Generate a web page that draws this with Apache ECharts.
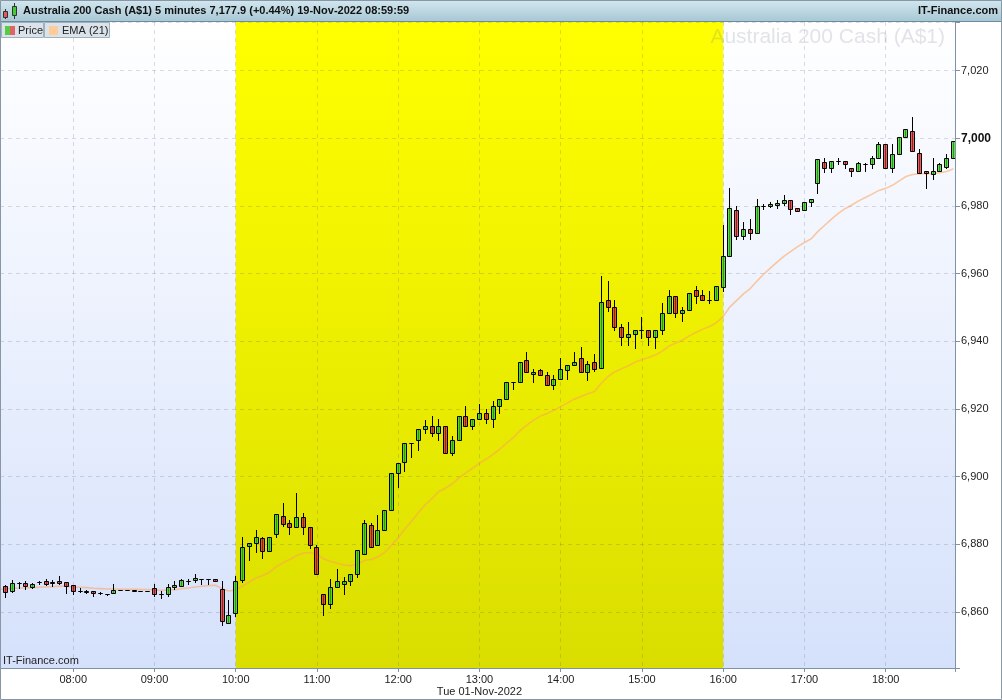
<!DOCTYPE html>
<html><head><meta charset="utf-8">
<script src="https://cdn.jsdelivr.net/npm/echarts@6/dist/echarts.min.js"></script>
<style>html,body{margin:0;padding:0;background:#fff}#c{width:1002px;height:700px}</style>
</head><body><div id="c"></div>
<script>
const times = [
'07:05','07:10','07:15','07:20','07:25','07:30','07:35','07:40','07:45','07:50','07:55',
'08:00','08:05','08:10','08:15','08:20','08:25','08:30','08:35','08:40','08:45','08:50','08:55',
'09:00','09:05','09:10','09:15','09:20','09:25','09:30','09:35','09:40','09:45','09:50','09:55',
'10:00','10:05','10:10','10:15','10:20','10:25','10:30','10:35','10:40','10:45','10:50','10:55',
'11:00','11:05','11:10','11:15','11:20','11:25','11:30','11:35','11:40','11:45','11:50','11:55',
'12:00','12:05','12:10','12:15','12:20','12:25','12:30','12:35','12:40','12:45','12:50','12:55',
'13:00','13:05','13:10','13:15','13:20','13:25','13:30','13:35','13:40','13:45','13:50','13:55',
'14:00','14:05','14:10','14:15','14:20','14:25','14:30','14:35','14:40','14:45','14:50','14:55',
'15:00','15:05','15:10','15:15','15:20','15:25','15:30','15:35','15:40','15:45','15:50','15:55',
'16:00','16:05','16:10','16:15','16:20','16:25','16:30','16:35','16:40','16:45','16:50','16:55',
'17:00','17:05','17:10','17:15','17:20','17:25','17:30','17:35','17:40','17:45','17:50','17:55',
'18:00','18:05','18:10','18:15','18:20','18:25','18:30','18:35','18:40','18:45','18:50'];
const opens = [
null,6867.8,6866.1,6868.6,6868.6,6867.4,6868.8,6869.2,6868.9,6869.2,6868.8,
6868.0,6866.3,6866.2,6866.1,6865.6,6865.3,6865.6,6866.5,6866.5,6866.5,6866.1,6866.1,
6867.1,6865.4,6865.3,6867.4,6867.8,6869.2,6869.4,6869.7,6869.7,6869.7,6866.8,6856.7,
6859.7,6869.6,6879.6,6880.3,6881.8,6878.1,6883.2,6888.5,6886.3,6885.0,6888.2,6885.0,
6879.1,6865.3,6862.4,6867.4,6868.2,6869.1,6871.2,6877.1,6885.6,6879.7,6884.1,6890.1,
6901.1,6904.3,6910.0,6910.8,6914.0,6915.0,6912.9,6915.0,6906.9,6910.8,6917.9,6915.0,
6916.9,6918.9,6916.9,6920.9,6923.0,6928.0,6928.0,6934.5,6930.3,6931.5,6930.0,6927.1,
6928.9,6931.5,6933.0,6935.2,6931.0,6933.8,6932.0,6952.2,6950.1,6944.2,6941.2,6942.1,
6943.3,6943.3,6941.2,6943.3,6948.3,6953.4,6948.3,6949.2,6955.2,6953.7,6952.2,6952.2,
6956.0,6965.1,6978.8,6971.1,6973.1,6972.1,6980.0,6980.1,6980.3,6981.0,6981.9,6979.4,
6978.7,6981.3,6986.8,6993.1,6991.1,6993.2,6993.2,6991.1,6990.2,6992.4,6992.3,6994.1,
6998.2,6991.1,6995.4,7000.3,7002.1,6995.6,6990.2,6989.4,6990.2,6991.6,6994.1];
const closes = [
null,6865.9,6868.6,6868.6,6867.8,6868.4,6868.8,6868.4,6868.7,6868.5,6867.6,
6866.3,6866.3,6866.0,6865.5,6865.5,6865.3,6866.5,6866.5,6866.5,6866.3,6866.1,6866.1,
6865.3,6865.4,6867.4,6867.9,6869.5,6869.2,6870.0,6869.7,6869.7,6869.1,6857.4,6859.2,
6869.1,6879.1,6880.3,6882.1,6878.1,6882.1,6889.1,6886.1,6885.0,6888.2,6885.0,6879.7,
6871.2,6862.4,6867.4,6869.1,6869.1,6871.2,6878.2,6886.2,6879.1,6884.1,6890.0,6901.1,
6904.0,6910.0,6910.0,6914.1,6915.0,6912.9,6915.0,6906.9,6910.8,6917.9,6915.0,6917.0,
6918.9,6916.9,6920.9,6923.0,6928.0,6928.0,6933.9,6930.9,6930.9,6930.0,6927.1,6928.9,
6931.8,6933.0,6933.9,6931.0,6933.2,6931.7,6951.6,6950.1,6944.2,6941.2,6942.1,6943.3,
6943.3,6941.2,6943.3,6948.3,6953.4,6948.3,6949.2,6954.3,6953.4,6952.2,6952.2,6956.4,
6965.1,6979.3,6971.1,6973.1,6972.1,6980.0,6980.0,6980.5,6981.0,6981.7,6979.2,6978.4,
6981.3,6982.0,6993.8,6991.1,6993.2,6993.4,6992.3,6990.2,6992.6,6992.4,6994.1,6998.2,
6991.1,6995.4,7000.3,7002.7,6996.1,6989.6,6989.6,6990.2,6992.4,6994.1,6999.1];
const lows = [
null,6864.4,6865.8,6867.2,6866.8,6867.2,6868.3,6868.0,6867.8,6868.4,6865.6,
6865.3,6865.9,6865.6,6864.8,6865.2,6865.1,6865.6,6866.5,6866.5,6866.3,6866.1,6866.1,
6864.8,6864.1,6864.6,6866.8,6867.6,6868.4,6869.0,6868.4,6868.4,6869.1,6856.1,6856.7,
6858.9,6869.0,6875.4,6877.6,6876.1,6878.1,6882.1,6885.5,6883.1,6885.0,6883.1,6879.0,
6871.2,6859.1,6861.1,6867.4,6865.2,6868.1,6870.3,6877.1,6879.1,6879.7,6884.1,6890.1,
6896.8,6901.8,6905.7,6907.9,6912.8,6911.9,6910.8,6906.9,6906.3,6910.8,6915.0,6914.0,
6916.9,6915.8,6914.8,6918.7,6923.0,6925.8,6928.0,6930.9,6928.0,6930.0,6927.1,6925.9,
6928.9,6928.9,6933.0,6931.0,6928.5,6931.2,6932.0,6949.1,6943.2,6939.0,6939.0,6938.1,
6941.1,6939.0,6938.1,6942.1,6948.3,6947.1,6946.1,6949.2,6951.3,6952.2,6951.3,6952.2,
6955.0,6965.1,6970.1,6970.1,6970.1,6972.1,6979.0,6979.7,6979.4,6980.4,6977.7,6978.4,
6978.7,6980.0,6983.9,6990.1,6990.1,6992.3,6991.1,6989.0,6990.2,6990.2,6991.1,6994.1,
6991.1,6990.1,6995.4,7000.3,6996.1,6989.6,6985.2,6988.1,6990.2,6991.1,6994.1];
const highs = [
null,6868.0,6869.5,6868.8,6869.1,6868.6,6869.3,6869.7,6869.6,6870.7,6868.8,
6868.0,6867.1,6866.6,6866.1,6865.8,6865.4,6868.4,6866.5,6866.5,6866.5,6866.1,6866.1,
6868.4,6866.1,6868.4,6869.3,6869.8,6869.7,6871.2,6869.7,6869.7,6869.7,6869.3,6863.4,
6870.5,6882.1,6880.3,6884.2,6882.3,6882.1,6889.1,6892.2,6887.2,6895.1,6889.2,6885.0,
6879.7,6865.3,6869.8,6872.7,6870.3,6871.2,6878.2,6887.1,6886.2,6888.7,6890.0,6901.1,
6904.0,6910.0,6910.0,6914.1,6916.6,6918.0,6917.0,6915.0,6912.1,6917.9,6921.0,6917.0,
6921.6,6920.0,6922.3,6923.0,6928.0,6928.0,6933.9,6936.9,6931.8,6931.8,6930.9,6930.0,
6935.1,6933.0,6936.9,6938.2,6934.2,6936.2,6959.4,6957.8,6952.3,6945.1,6945.6,6943.3,
6947.2,6943.3,6943.3,6951.4,6955.2,6953.4,6950.2,6954.3,6956.4,6955.2,6955.0,6956.4,
6974.3,6985.4,6980.0,6975.2,6976.2,6982.2,6980.7,6981.2,6981.9,6983.2,6981.9,6979.4,
6981.3,6982.0,6993.8,6994.1,6993.2,6994.1,6993.2,6991.1,6993.1,6992.6,6994.8,6998.8,
6998.2,6998.2,7000.3,7002.7,7006.4,6996.7,6990.2,6994.1,6992.8,6995.4,6999.1];
const ema21 = [
6866.7,6866.8,6867.0,6867.1,6867.1,6867.2,6867.3,6867.4,6867.5,6867.6,6867.6,
6867.4,6867.3,6867.2,6867.0,6866.9,6866.8,6866.8,6866.7,6866.7,6866.7,6866.6,6866.6,
6866.5,6866.4,6866.5,6866.6,6866.9,6867.1,6867.4,6867.6,6867.8,6867.9,6866.9,6866.2,
6866.5,6867.7,6868.8,6870.1,6870.8,6871.8,6873.4,6874.6,6875.5,6876.7,6877.4,6877.6,
6877.1,6875.7,6875.0,6874.4,6873.9,6873.7,6874.1,6875.2,6875.5,6876.3,6877.6,6879.7,
6881.9,6884.6,6886.9,6889.4,6891.7,6893.6,6895.6,6896.6,6897.9,6899.7,6901.1,6902.5,
6904.0,6905.2,6906.6,6908.1,6909.9,6911.5,6913.6,6915.2,6916.7,6917.9,6918.7,6919.6,
6920.7,6921.8,6922.9,6923.7,6924.5,6925.2,6927.6,6929.6,6931.0,6931.9,6932.8,6933.8,
6934.6,6935.2,6936.0,6937.1,6938.6,6939.5,6940.4,6941.6,6942.7,6943.6,6944.4,6945.5,
6947.3,6950.2,6952.1,6954.0,6955.6,6957.8,6959.9,6961.7,6963.5,6965.2,6966.6,6968.0,
6969.2,6970.3,6972.5,6974.3,6976.1,6977.8,6979.2,6980.3,6981.5,6982.5,6983.5,6984.6,
6985.2,6986.1,6987.4,6988.7,6989.3,6989.5,6989.5,6989.6,6989.8,6990.2,6991.0];
const session = ['10:00', '16:00'];
const xTickLabels = ['08:00','09:00','10:00','11:00','12:00','13:00','14:00','15:00','16:00','17:00','18:00'];
const yTickLabels = [6860, 6880, 6900, 6920, 6940, 6960, 6980, 7000, 7020];
const dateLabel = {at: '13:00', text: 'Tue 01-Nov-2022'};
const titleText = 'Australia 200 Cash (A$1) 5 minutes 7,177.9 (+0.44%) 19-Nov-2022 08:59:59';
const watermark = 'Australia 200 Cash (A$1)';
const brand = 'IT-Finance.com';
const legendNames = ['Price', 'EMA (21)'];
const viewRange = ['07:05:54', '18:51:12'];

const toHour = s => { const p = s.split(':').map(Number); return p[0] + p[1] / 60 + (p[2] || 0) / 3600; };
const fmtHour = v => { const tot = Math.round(v * 60); const h = Math.floor(tot / 60), m = tot % 60; return String(h).padStart(2, '0') + ':' + String(m).padStart(2, '0'); };

const candleData = times.map((t, i) => [toHour(t), opens[i], closes[i], lows[i], highs[i]]);
const emaData = times.map((t, i) => [toHour(t), ema21[i]]);

const LG = echarts.graphic.LinearGradient;
const chart = echarts.init(document.getElementById('c'), null, {renderer: 'canvas'});
const gridLine = {show: true, lineStyle: {type: [4, 4], color: 'rgba(80,80,110,0.2)', width: 1}};
const axisCol = '#7f93a6';
const FONT = 'Liberation Sans, Arial, sans-serif';

chart.setOption({
  animation: false,
  backgroundColor: '#ffffff',
  grid: {left: 0, right: 47, top: 22, bottom: 32, show: true, borderWidth: 0, outerBoundsMode: 'none', containLabel: false,
    backgroundColor: new LG(0, 0, 0, 1, [{offset: 0, color: '#ffffff'}, {offset: 1, color: '#d5e1fb'}])},
  xAxis: {
    type: 'value', min: toHour(viewRange[0]), max: toHour(viewRange[1]), splitNumber: 12, scale: true, z: 2,
    axisLine: {show: true, onZero: false, lineStyle: {color: axisCol}},
    axisTick: {show: true, length: 4, lineStyle: {color: axisCol}},
    axisLabel: {color: '#222', fontSize: 11, fontFamily: FONT, margin: 6, lineHeight: 12,
      formatter: v => { if (Math.abs(v - Math.round(v)) > 0.001) return ''; const s = fmtHour(v); if (xTickLabels.indexOf(s) < 0) return ''; return s === dateLabel.at ? s + '\n' + dateLabel.text : s; }},
    splitLine: gridLine
  },
  yAxis: {
    type: 'value', position: 'right', min: 6843.45, max: 7034.37, splitNumber: 10, scale: true, z: 2,
    axisLine: {show: true, lineStyle: {color: axisCol}},
    axisTick: {show: true, length: 5, lineStyle: {color: axisCol}},
    axisLabel: {color: '#222', fontSize: 11, fontFamily: FONT, margin: 6,
      formatter: v => { if (yTickLabels.indexOf(Math.round(v)) < 0 || Math.abs(v - Math.round(v)) > 0.01) return ''; const s = Math.round(v).toLocaleString('en-US'); return Math.round(v) === 7000 ? '{b|' + s + '}' : s; },
      rich: {b: {fontWeight: 'bold', fontSize: 12, color: '#111', fontFamily: FONT}}},
    splitLine: gridLine
  },
  series: [
    {
      type: 'custom', z: 1, silent: true,
      data: [[toHour(session[0]), toHour(session[1])]],
      encode: {x: [0, 1]},
      renderItem: (params, api) => {
        const cs = params.coordSys;
        const x0 = api.coord([api.value(0), 6900])[0];
        const x1 = api.coord([api.value(1), 6900])[0];
        return {type: 'rect', shape: {x: x0, y: cs.y, width: x1 - x0, height: cs.height},
          style: {fill: new LG(0, 0, 0, 1, [{offset: 0, color: '#ffff00'}, {offset: 1, color: '#dade00'}])}};
      }
    },
    {
      type: 'line', z: 3, data: emaData, symbol: 'none', silent: true,
      lineStyle: {color: 'rgba(255,160,90,0.55)', width: 1.6}
    },
    {
      type: 'custom', z: 4, clip: true,
      data: candleData,
      encode: {x: 0, y: [1, 2, 3, 4]},
      renderItem: (params, api) => {
        const t = api.value(0), o = api.value(1), c = api.value(2), l = api.value(3), h = api.value(4);
        if (o == null || isNaN(o)) return null;
        const cx = Math.floor(api.coord([t, o])[0]);
        const yo = api.coord([t, o])[1], yc = api.coord([t, c])[1];
        const yl = api.coord([t, l])[1], yh = api.coord([t, h])[1];
        const top = Math.round(Math.min(yo, yc)) + 0.5, bot = Math.round(Math.max(yo, yc)) + 0.5;
        const up = c >= o;
        return {type: 'group', children: [
          {type: 'line', shape: {x1: cx + 0.5, y1: Math.round(yh), x2: cx + 0.5, y2: Math.round(yl) + 1},
            style: {stroke: '#000', lineWidth: 1}},
          {type: 'rect', shape: {x: cx - 1.5, y: top, width: 4, height: bot - top},
            style: {fill: up ? 'rgba(50,209,27,0.75)' : 'rgba(213,42,42,0.72)', stroke: '#000', lineWidth: 1}}
        ]};
      }
    }
  ],
  graphic: [
    {type: 'rect', z: 10, shape: {x: 0, y: 0, width: 1002, height: 21},
      style: {fill: new LG(0, 0, 0, 1, [{offset: 0, color: '#d3e7ee'}, {offset: 1, color: '#a7c8d5'}])}},
    {type: 'line', z: 10, shape: {x1: 0, y1: 21.5, x2: 1002, y2: 21.5}, style: {stroke: '#6f8a99', lineWidth: 1}},
    {type: 'line', z: 11, shape: {x1: 5.5, y1: 9, x2: 5.5, y2: 19}, style: {stroke: '#333', lineWidth: 1}},
    {type: 'rect', z: 11, shape: {x: 3.5, y: 11.5, width: 4, height: 6}, style: {fill: '#e05a5a', stroke: '#333', lineWidth: 1}},
    {type: 'line', z: 11, shape: {x1: 14.5, y1: 3, x2: 14.5, y2: 19}, style: {stroke: '#333', lineWidth: 1}},
    {type: 'rect', z: 11, shape: {x: 12.5, y: 6.5, width: 4, height: 9}, style: {fill: '#44cc33', stroke: '#333', lineWidth: 1}},
    {type: 'text', z: 11, x: 23, y: 11, style: {text: titleText, fill: '#111', font: 'bold 11px "Liberation Sans", Arial, sans-serif', verticalAlign: 'middle'}},
    {type: 'text', z: 11, x: 998, y: 11, style: {text: brand, fill: '#111', font: 'bold 11px "Liberation Sans", Arial, sans-serif', align: 'right', verticalAlign: 'middle'}},
    {type: 'rect', z: 10, shape: {x: 1.5, y: 22.5, width: 42, height: 15}, style: {fill: '#dae3ea', stroke: '#9fb0be', lineWidth: 1}},
    {type: 'rect', z: 11, shape: {x: 5, y: 26, width: 5, height: 9}, style: {fill: '#55cc44'}},
    {type: 'rect', z: 11, shape: {x: 10, y: 26, width: 5, height: 9}, style: {fill: '#e06464'}},
    {type: 'text', z: 11, x: 18, y: 30.5, style: {text: legendNames[0], fill: '#222', font: '11px "Liberation Sans", Arial, sans-serif', verticalAlign: 'middle'}},
    {type: 'rect', z: 10, shape: {x: 44.5, y: 22.5, width: 65, height: 15}, style: {fill: '#dae3ea', stroke: '#9fb0be', lineWidth: 1}},
    {type: 'rect', z: 11, shape: {x: 49, y: 26, width: 9, height: 9}, style: {fill: '#ffcc99'}},
    {type: 'text', z: 11, x: 62, y: 30.5, style: {text: legendNames[1], fill: '#222', font: '11px "Liberation Sans", Arial, sans-serif', verticalAlign: 'middle'}},
    {type: 'text', z: 5, x: 945, y: 37, style: {text: watermark, fill: 'rgba(120,130,150,0.22)', font: '21px "Liberation Sans", Arial, sans-serif', align: 'right', verticalAlign: 'middle'}},
    {type: 'text', z: 5, x: 3, y: 661, style: {text: brand, fill: '#222', font: '11px "Liberation Sans", Arial, sans-serif', verticalAlign: 'middle'}},
    {type: 'rect', z: 12, shape: {x: 0.5, y: 0.5, width: 1001, height: 699}, style: {fill: 'none', stroke: '#8797a8', lineWidth: 1}}
  ]
});
</script>
</body></html>
